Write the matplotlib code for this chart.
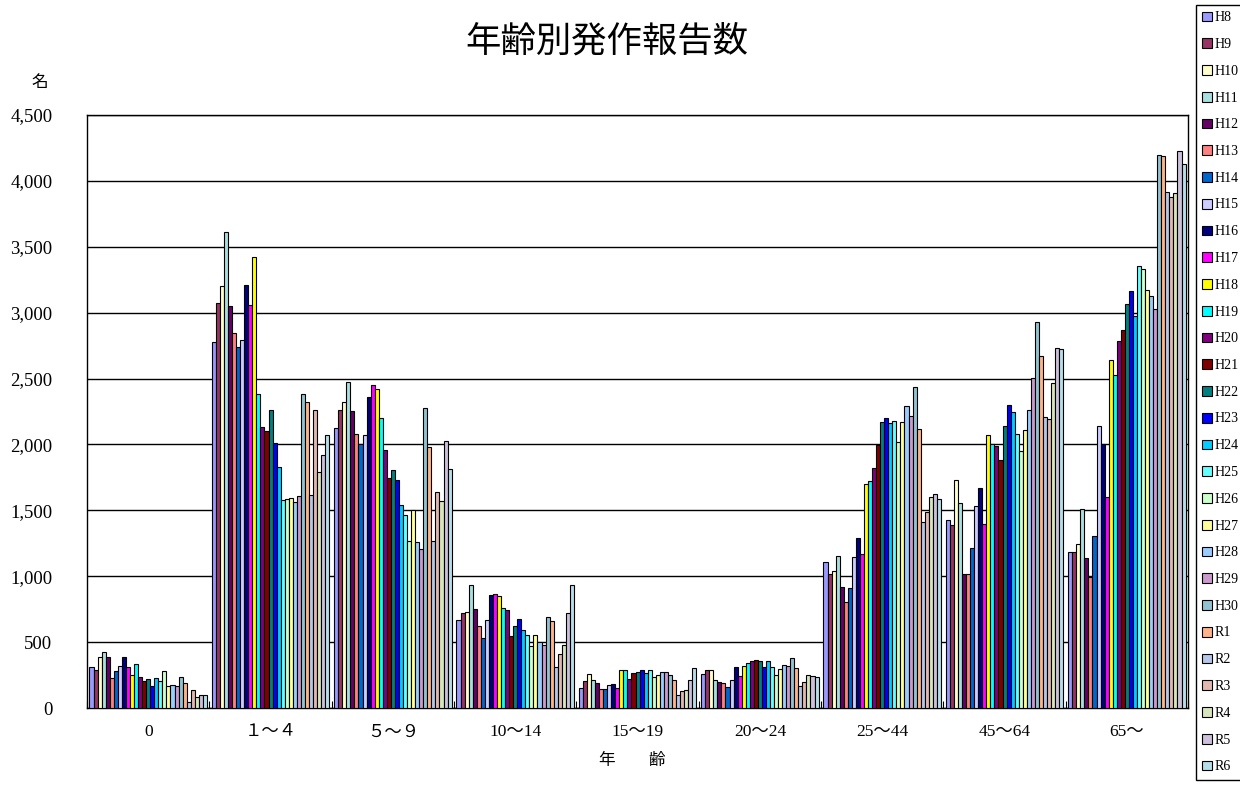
import numpy as np
import matplotlib.pyplot as plt
from matplotlib.patches import Patch
from matplotlib.ticker import FuncFormatter

# 年齢区分
age_groups = ["0", "１～４", "５～９", "10～14", "15～19", "20～24", "25～44", "45～64", "65～"]

years = ["H8", "H9", "H10", "H11", "H12", "H13", "H14", "H15", "H16", "H17",
         "H18", "H19", "H20", "H21", "H22", "H23", "H24", "H25", "H26", "H27",
         "H28", "H29", "H30", "R1", "R2", "R3", "R4", "R5", "R6"]

colors = ["#9999FF", "#993366", "#FFFFCC", "#A8E0E0", "#660066", "#FF8080",
          "#0066CC", "#CCCCFF", "#000080", "#FF00FF", "#FFFF00", "#00FFFF",
          "#800080", "#800000", "#008080", "#0000FF", "#00CCFF", "#66FFFF",
          "#CCFFCC", "#FFFF99", "#99CCFF", "#CC99CC", "#93C3D0", "#FFB38A",
          "#B4C7E7", "#E0B8B0", "#D8E4BC", "#CCC0DA", "#B7DEE8"]

# 年齢区分ごとの発作報告数（H8〜R6）
age_0 = [313, 288, 389, 422, 389, 225, 281, 321, 385, 313, 250, 336, 238, 207, 220,
         167, 225, 207, 281, 167, 175, 167, 233, 192, 48, 137, 81, 99, 99]
age_1_4 = [2780, 3075, 3200, 3612, 3048, 2843, 2742, 2792, 3210, 3055, 3420, 2380, 2130,
           2102, 2259, 2013, 1831, 1578, 1583, 1596, 1565, 1606, 2380, 2324, 1614, 2259,
           1788, 1920, 2069]
age_5_9 = [2127, 2259, 2322, 2471, 2251, 2081, 2006, 2071, 2362, 2448, 2423, 2203, 1958,
           1748, 1804, 1728, 1540, 1465, 1270, 1505, 1257, 1209, 2274, 1978, 1265, 1639,
           1573, 2024, 1816]
age_10_14 = [668, 718, 731, 933, 751, 622, 531, 670, 857, 867, 847, 761, 744, 546, 622,
             675, 589, 554, 473, 556, 501, 481, 690, 660, 313, 407, 481, 723, 933]
age_15_19 = [154, 202, 260, 212, 192, 142, 147, 177, 185, 154, 291, 291, 218, 263, 271,
             291, 268, 291, 238, 253, 276, 271, 250, 212, 99, 131, 139, 210, 301]
age_20_24 = [261, 288, 288, 212, 195, 187, 157, 215, 311, 243, 319, 339, 357, 362, 357,
             313, 359, 313, 253, 296, 326, 316, 377, 301, 169, 200, 253, 243, 233]
age_25_44 = [1105, 1017, 1042, 1153, 921, 802, 913, 1148, 1287, 1168, 1702, 1722, 1821,
             1996, 2167, 2203, 2160, 2180, 2020, 2167, 2294, 2218, 2436, 2114, 1409, 1485,
             1603, 1624, 1586]
age_45_64 = [1426, 1388, 1732, 1558, 1017, 1017, 1211, 1530, 1669, 1393, 2071, 2006, 1985,
             1881, 2139, 2301, 2243, 2081, 1947, 2107, 2263, 2504, 2929, 2668, 2210, 2195,
             2463, 2731, 2721]
age_65_over = [1181, 1181, 1247, 1507, 1136, 991, 1302, 2139, 2000, 1603, 2640, 2526, 2782,
               2868, 3065, 3166, 2974, 3356, 3328, 3169, 3129, 3030, 4198, 4188, 3915, 3875,
               3908, 4226, 4128]

data = np.array([age_0, age_1_4, age_5_9, age_10_14, age_15_19, age_20_24,
                 age_25_44, age_45_64, age_65_over]).T  # rows: years

jp = ["Noto Sans CJK JP", "DejaVu Sans"]
num_font = ["Liberation Serif", "Noto Sans CJK JP"]

fig = plt.figure(figsize=(12.4, 7.91), dpi=100)
ax = fig.add_axes([0.0702, 0.1049, 0.8879, 0.7497])

n = len(years)
group_w = 0.96
bar_w = group_w / n
x = np.arange(len(age_groups))
for i, (yr, c) in enumerate(zip(years, colors)):
    offs = -group_w / 2 + bar_w * (i + 0.5)
    ax.bar(x + offs, data[i], width=bar_w, color=c, edgecolor="black",
           linewidth=0.8, zorder=3)

ax.set_xlim(-0.5, len(age_groups) - 0.5)
ax.set_ylim(0, 4500)
ax.set_yticks(np.arange(0, 4501, 500))
ax.yaxis.set_major_formatter(FuncFormatter(lambda v, p: f"{int(v):,}"))
ax.grid(axis="y", color="black", linewidth=1, zorder=0)
ax.set_axisbelow(True)
for s in ax.spines.values():
    s.set_color("black")
    s.set_linewidth(1)

# 区分の境界に目盛り
ax.set_xticks(np.arange(-0.5, len(age_groups), 1.0))
ax.set_xticklabels([])
ax.tick_params(axis="x", direction="in", length=5, color="black")
ax.tick_params(axis="y", length=0, pad=25)
for lbl in ax.get_yticklabels():
    lbl.set_family(num_font)
    lbl.set_fontsize(13.5)

for xi, name in zip(x, age_groups):
    ax.text(xi, -185, name, ha="center", va="center", fontsize=12.5, family=num_font)

fig.text(0.489, 0.947, "年齢別発作報告数", ha="center", va="center", fontsize=25.5, family=jp)
fig.text(0.032, 0.896, "名", ha="center", va="center", fontsize=12, family=jp)
fig.text(0.51, 0.038, "年　　齢", ha="center", va="center", fontsize=12, family=jp)

handles = [Patch(facecolor=c, edgecolor="black", linewidth=0.8) for c in colors]
fig.legend(handles, years, loc="upper left", bbox_to_anchor=(1196 / 1240, 1 - 5 / 791),
           frameon=True, fancybox=False, edgecolor="black", framealpha=1,
           prop={"family": num_font, "size": 10}, handlelength=0.7, handleheight=0.7,
           handletextpad=0.2, labelspacing=0.99, borderpad=0.45, borderaxespad=0)

fig.savefig("out.png", dpi=100)
